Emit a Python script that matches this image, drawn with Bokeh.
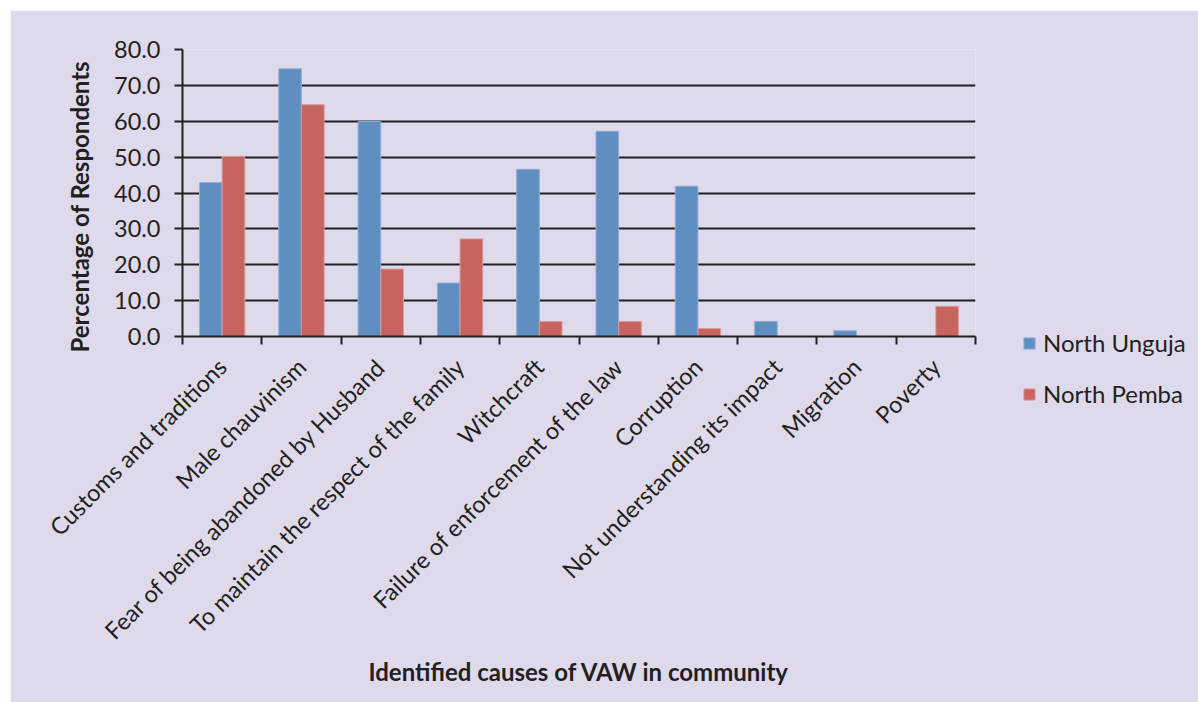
import math

from bokeh.embed import file_html
from bokeh.models import (FixedTicker, Grid, Legend, LegendItem, LinearAxis,
                          NumeralTickFormatter, Range1d, Title)
from bokeh.plotting import figure
from bokeh.resources import INLINE

# Causes of violence against women named by respondents, by district
categories = [
    "Customs and traditions",
    "Male chauvinism",
    "Fear of being abandoned by Husband",
    "To maintain the respect of the family",
    "Witchcraft",
    "Failure of enforcement of the law",
    "Corruption",
    "Not understanding its impact",
    "Migration",
    "Poverty",
]
north_unguja = [42.9, 74.6, 59.9, 14.9, 46.6, 57.2, 41.9, 4.2, 1.6, 0.0]
north_pemba = [50.2, 64.6, 18.8, 27.2, 4.2, 4.2, 2.2, 0.0, 0.0, 8.4]
series_names = ["North Unguja", "North Pemba"]
y_ticks = [0, 10, 20, 30, 40, 50, 60, 70, 80]

FONT = "Lato"
INK = "#231f20"
PANEL = "#dedaeb"
BLUE = "#5f8ec0"
RED = "#c66560"
BLUE_EDGE = "#8fb0d8"
RED_EDGE = "#dc9a98"

n = len(categories)
bar_w = 0.286
centers = [i + 0.5 for i in range(n)]
x_blue = [c - bar_w / 2 for c in centers]
x_red = [c + bar_w / 2 for c in centers]

p = figure(
    width=1188, height=692,
    frame_width=793, frame_height=287,
    x_range=Range1d(0, n), y_range=Range1d(0, 80),
    output_backend="svg", toolbar_location=None,
    x_axis_type=None, y_axis_type=None,
    min_border_left=172, min_border_right=223,
    min_border_top=39, min_border_bottom=366,
)
p.margin = (10, 0, 0, 10)
p.background_fill_color = PANEL
p.border_fill_color = PANEL
p.outline_line_color = None

# x axis: tick marks between categories, labels at category centres
xaxis = LinearAxis(
    ticker=FixedTicker(ticks=centers, minor_ticks=list(range(n + 1))),
    major_label_overrides={c: lab for c, lab in zip(centers, categories)},
    major_label_orientation=math.pi / 4,
    major_tick_line_color=None,
    minor_tick_line_color=INK, minor_tick_line_width=2,
    minor_tick_in=0, minor_tick_out=8,
    axis_line_color=INK, axis_line_width=2,
    major_label_text_font=FONT, major_label_text_font_size="23.5px",
    major_label_text_color=INK, major_label_standoff=18,
    axis_label="Identified causes of VAW in community",
    axis_label_text_font=FONT, axis_label_text_font_size="24px",
    axis_label_text_font_style="bold", axis_label_text_color=INK,
    axis_label_standoff=0,
)
p.add_layout(xaxis, "below")

yaxis = LinearAxis(
    ticker=FixedTicker(ticks=y_ticks),
    formatter=NumeralTickFormatter(format="0.0"),
    major_tick_line_color=INK, major_tick_line_width=2,
    major_tick_in=0, major_tick_out=8,
    minor_tick_line_color=None,
    axis_line_color=INK, axis_line_width=2,
    major_label_text_font=FONT, major_label_text_font_size="23.5px",
    major_label_text_color=INK, major_label_standoff=14,
)
p.add_layout(yaxis, "left")

# y axis title starts just below the value axis and runs upward
y_title = Title(
    text="Percentage of Respondents", align="left", offset=-16,
    standoff=36,
    text_font=FONT, text_font_size="24px", text_font_style="bold",
    text_color=INK,
)
p.add_layout(y_title, "left")

p.add_layout(Grid(dimension=1, ticker=FixedTicker(ticks=y_ticks),
                  grid_line_color=INK, grid_line_width=2))

r_blue = p.vbar(x=x_blue, top=north_unguja, width=bar_w, fill_color=BLUE,
                line_color=BLUE_EDGE, line_width=1)
r_red = p.vbar(x=x_red, top=north_pemba, width=bar_w, fill_color=RED,
               line_color=RED_EDGE, line_width=1)

legend = Legend(
    items=[LegendItem(label=series_names[0], renderers=[r_blue]),
           LegendItem(label=series_names[1], renderers=[r_red])],
    location=(47, -72),
    glyph_width=14, glyph_height=14, label_standoff=7,
    label_text_font=FONT, label_text_font_size="24px",
    label_text_color=INK, label_height=28, spacing=22,
    padding=0, margin=0,
    border_line_color=None, background_fill_alpha=0,
)
p.add_layout(legend, "right")

open("out.html", "w").write(file_html(p, INLINE))
